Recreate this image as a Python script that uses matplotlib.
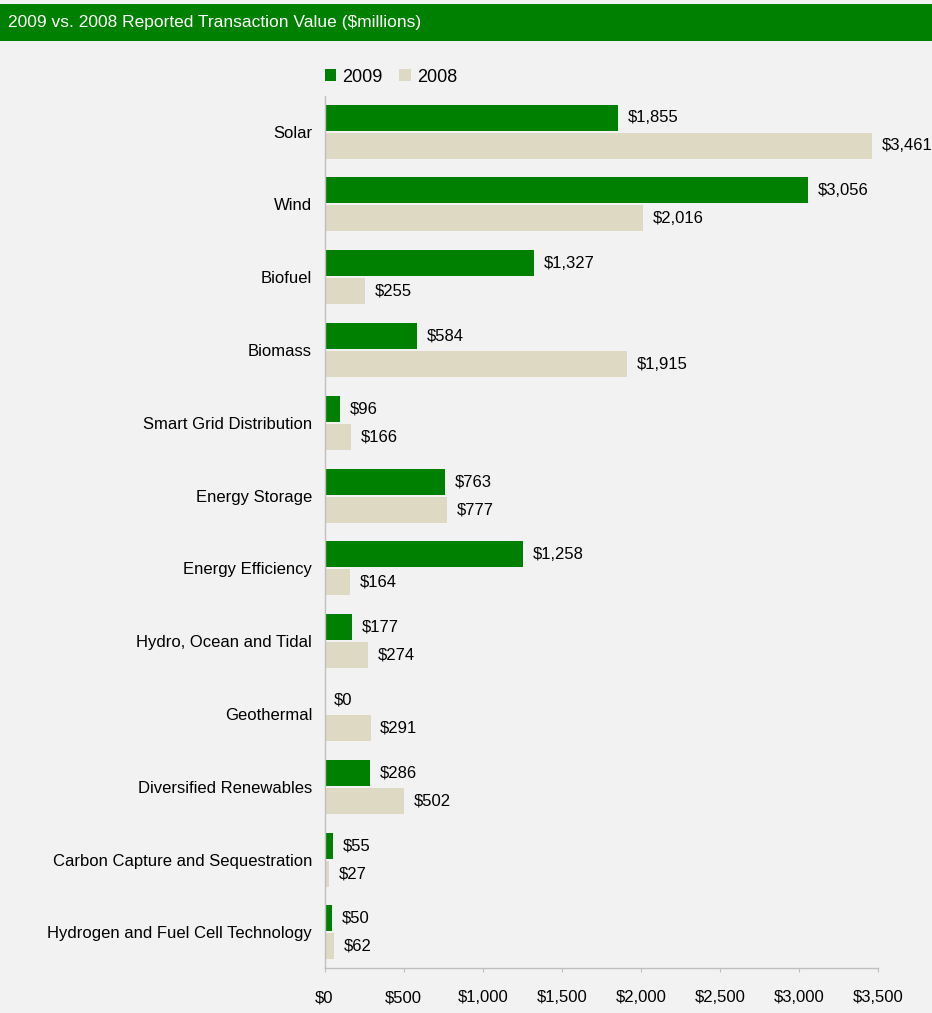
import numpy as np
import matplotlib
matplotlib.use('Agg')
import matplotlib.pyplot as plt
from matplotlib.patches import Rectangle
from matplotlib.ticker import FuncFormatter

plt.rcParams['font.family'] = ['Liberation Sans', 'DejaVu Sans']

# данные
categories = ['Solar', 'Wind', 'Biofuel', 'Biomass', 'Smart Grid Distribution',
              'Energy Storage', 'Energy Efficiency', 'Hydro, Ocean and Tidal',
              'Geothermal', 'Diversified Renewables',
              'Carbon Capture and Sequestration', 'Hydrogen and Fuel Cell Technology']
values_2009 = [1855, 3056, 1327, 584, 96, 763, 1258, 177, 0, 286, 55, 50]
values_2008 = [3461, 2016, 255, 1915, 166, 777, 164, 274, 291, 502, 27, 62]
x_ticks = [0, 500, 1000, 1500, 2000, 2500, 3000, 3500]

green = '#008000'
beige = '#ddd9c3'
bg = '#f2f2f2'

fig = plt.figure(figsize=(9.32, 10.13), dpi=100)
fig.patch.set_facecolor(bg)

# заголовок
fig.patches.append(Rectangle((0, 1 - 41 / 1013), 1, 37 / 1013, transform=fig.transFigure,
                             facecolor=green, edgecolor='none', zorder=0))
fig.text(8 / 932, 1 - 23 / 1013, '2009 vs. 2008 Reported Transaction Value ($millions)',
         color='white', fontsize=12.5, va='center', ha='left')

ax = fig.add_axes([324.5 / 932, 1 - 968 / 1013, (878 - 324.5) / 932, (968 - 96) / 1013])
ax.set_facecolor(bg)

y = np.arange(len(categories))
h = 0.357
b1 = ax.barh(y - h / 2 - 0.014, values_2009, height=h, color=green, label='2009')
b2 = ax.barh(y + h / 2 + 0.014, values_2008, height=h, color=beige, label='2008')

for bars, vals in [(b1, values_2009), (b2, values_2008)]:
    for bar, v in zip(bars, vals):
        ax.annotate(f'${v:,}', (v, bar.get_y() + bar.get_height() / 2),
                    xytext=(7, 0), textcoords='offset points',
                    va='center', ha='left', fontsize=12, clip_on=False)

ax.set_yticks(y)
ax.set_yticklabels(categories, fontsize=12)
ax.set_ylim(11.49, -0.49)
ax.set_xlim(0, 3500)
ax.set_xticks(x_ticks)
ax.xaxis.set_major_formatter(FuncFormatter(lambda v, p: f'${int(v):,}'))
ax.tick_params(axis='x', labelsize=12, length=3, color='#bfbfbf', pad=13)
ax.tick_params(axis='y', length=0, pad=9)

for s in ['top', 'right']:
    ax.spines[s].set_visible(False)
for s in ['left', 'bottom']:
    ax.spines[s].set_color('#bfbfbf')
    ax.spines[s].set_linewidth(1)

leg = ax.legend(loc='lower left', bbox_to_anchor=(0, 1.012), ncol=2, frameon=False,
                fontsize=13, handlelength=0.65, handleheight=0.65, handletextpad=0.35,
                columnspacing=0.9, borderaxespad=0, borderpad=0)

plt.savefig('out.png', dpi=100, facecolor=bg)
